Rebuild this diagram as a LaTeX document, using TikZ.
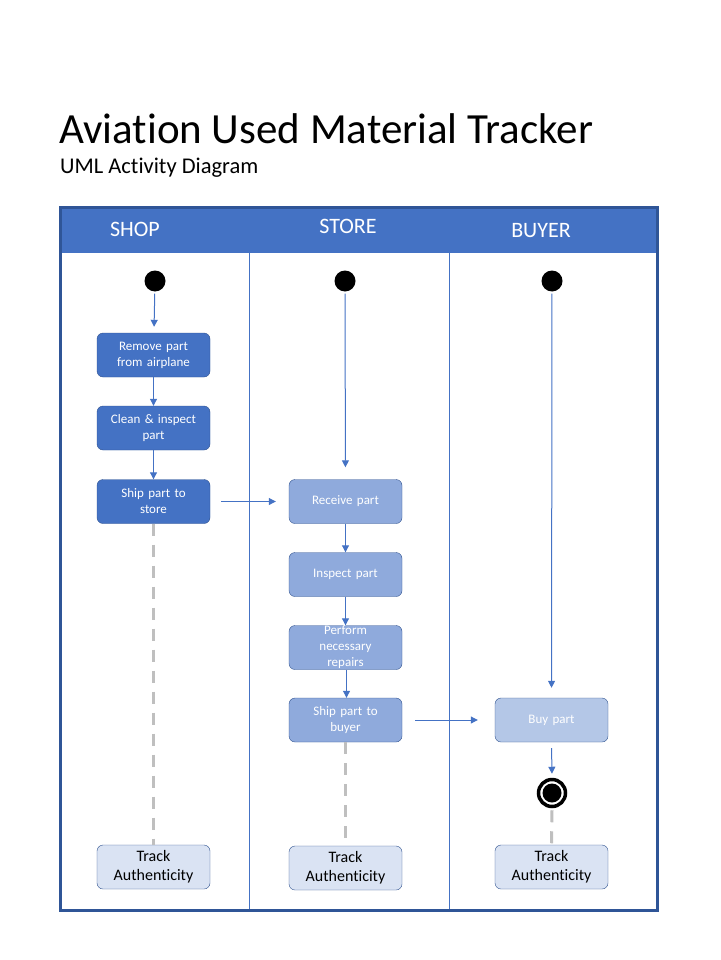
\documentclass[tikz,border=0pt]{standalone}
\usepackage{fontspec}
\setmainfont{Carlito}[Ligatures=NoCommon]
\usetikzlibrary{arrows.meta}
\definecolor{laneblue}{HTML}{4472C4}
\definecolor{frameblue}{HTML}{2F5597}
\definecolor{edgeblue}{HTML}{2F528F}
\definecolor{midblue}{HTML}{8FAADC}
\definecolor{paleblue}{HTML}{B4C7E7}
\definecolor{trackfill}{HTML}{DAE3F3}
\definecolor{dashgray}{HTML}{BFBFBF}

\begin{document}
\begin{tikzpicture}[x=1pt, y=-1pt, >={Triangle[length=7pt,width=7pt]}, line cap=butt,
  act/.style={draw=edgeblue, rounded corners=6pt, minimum width=113pt, minimum height=44pt,
    text width=105pt, align=center, inner sep=0pt, text=white, font=\fontsize{13}{16}\selectfont},
  trackbox/.style={act, fill=trackfill, text=black, font=\fontsize{16}{19}\selectfont},
  startnode/.style={circle, fill=black, minimum size=21pt, inner sep=0pt},
  flow/.style={draw=laneblue, line width=1pt, ->},
  lifeline/.style={draw=dashgray, line width=3pt, dash pattern=on 12pt off 9pt},
  lanehead/.style={text=white, font=\fontsize{22}{26}\selectfont}]
\useasboundingbox (0,0) rectangle (720,960);

% title
\node[anchor=base west, inner sep=0pt, font=\fontsize{43}{48}\selectfont] (title) at (59,144) {Aviation Used Material Tracker};
\node[anchor=base west, inner sep=0pt, font=\fontsize{22.5}{26}\selectfont] (subtitle) at (60,174) {UML Activity Diagram};

% swimlanes
\fill[laneblue] (60,207) rectangle (657,253);
\draw[laneblue, line width=1pt] (249,253) -- (249,910);
\draw[laneblue, line width=1pt] (449,253) -- (449,910);
\draw[frameblue, line width=3pt] (60,207) rectangle (657,910);
\node[lanehead] (shop) at (135,229) {SHOP};
\node[lanehead] (store) at (348,226) {STORE};
\node[lanehead] (buyer) at (541,231) {BUYER};

% shop
\node[startnode] (init1) at (155,281) {};
\node[act, fill=laneblue] (remove) at (153.5,355) {Remove part\\from airplane};
\node[act, fill=laneblue] (clean) at (153.5,428) {Clean \& inspect\\part};
\node[act, fill=laneblue] (shipstore) at (153.5,501.5) {Ship part to\\store};
\node[trackbox] (trackshop) at (153.5,867) {Track\\Authenticity};

% store
\node[startnode] (init2) at (345,281) {};
\node[act, fill=midblue] (receive) at (345.5,501.5) {Receive part};
\node[act, fill=midblue] (inspect) at (345.5,574.5) {Inspect part};
\node[act, fill=midblue] (repair) at (345.5,647.5) {Perform\\necessary\\repairs};
\node[act, fill=midblue] (shipbuyer) at (345.5,720) {Ship part to\\buyer};
\node[trackbox] (trackstore) at (345.5,868) {Track\\Authenticity};

% buyer
\node[startnode] (init3) at (552,281) {};
\node[act, fill=paleblue] (buy) at (551.5,720) {Buy part};
\node[circle, draw=black, line width=3.5pt, fill=white, minimum size=27pt, inner sep=0pt] (final) at (552,793) {};
\node[startnode, minimum size=19pt] (finaldot) at (final) {};
\node[trackbox] (trackbuy) at (551.5,867) {Track\\Authenticity};

% control flow
\draw[flow, shorten <=2pt, shorten >=6pt] (init1) -- (remove);
\draw[flow] (remove) -- (clean);
\draw[flow] (clean) -- (shipstore);
\draw[flow, shorten <=11pt, shorten >=13pt] (shipstore) -- (receive);
\draw[flow, shorten <=2pt, shorten >=12pt] (init2) -- (receive);
\draw[flow] (receive) -- (inspect);
\draw[flow] (inspect) -- (repair);
\draw[flow] ([xshift=1pt]repair.south) -- ([xshift=1pt]shipbuyer.north);
\draw[flow, shorten <=13pt, shorten >=17pt] (shipbuyer) -- (buy);
\draw[flow, shorten <=2pt, shorten >=10pt] (init3) -- (buy);
\draw[flow, shorten <=6pt, shorten >=4pt] (buy.south) -- (final.north);

% lifelines
\draw[lifeline] (shipstore.south) -- (trackshop.north);
\draw[lifeline] (shipbuyer.south) -- ([yshift=8pt]trackstore.north);
\draw[lifeline] ([yshift=-2pt]final.south) -- (trackbuy.north);
\end{tikzpicture}
\end{document}
